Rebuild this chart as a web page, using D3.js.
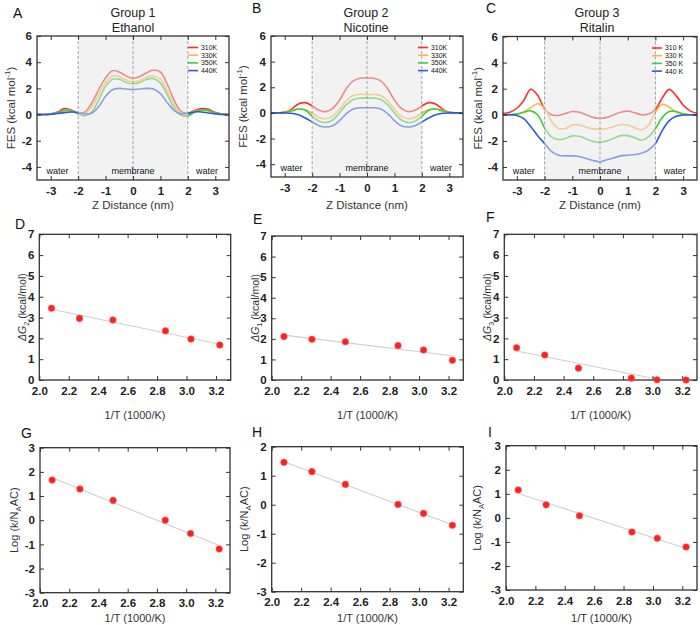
<!DOCTYPE html>
<html><head><meta charset="utf-8">
<script src="https://cdn.jsdelivr.net/npm/d3@7"></script>
<style>
html,body{margin:0;padding:0;background:#fff;}
svg{display:block;font-family:Helvetica, Arial, "Liberation Sans", sans-serif;}
</style></head><body>
<svg id="chart" width="700" height="625"></svg>
<script>
// ---------- DATA ----------
const zDistance = [-3.5,-3.25,-3,-2.75,-2.5,-2.25,-2,-1.75,-1.5,-1.25,-1,-0.75,-0.5,-0.25,0,0.25,0.5,0.75,1,1.25,1.5,1.75,2,2.25,2.5,2.75,3,3.25,3.5];
const tempLabels = ["310K","330K","350K","440K"];
const tempLabelsC = ["310 K","330 K","350 K","440 K"];

const ethanol310 = [0,0,0.05,0.2,0.45,0.35,0.12,0.2,0.9,1.9,2.8,3.35,3.25,2.95,2.75,2.9,3.2,3.4,3.25,2.3,1.1,0.25,0.1,0.3,0.45,0.4,0.15,0.03,0];
const ethanol330 = [0,0,0.03,0.15,0.35,0.3,0.1,0.1,0.6,1.5,2.45,2.95,2.9,2.65,2.5,2.6,2.85,2.95,2.7,1.8,0.8,0.1,0.05,0.25,0.35,0.3,0.1,0.02,0];
const ethanol350 = [0,0,0.03,0.15,0.3,0.3,0.05,-0.1,0.2,1.1,2.15,2.7,2.7,2.45,2.35,2.45,2.7,2.75,2.4,1.5,0.5,-0.05,-0.1,0.2,0.35,0.3,0.1,0.02,0];
const ethanol440 = [0,0,0.02,0.08,0.15,0.2,0.15,0.05,0.1,0.6,1.4,1.9,2.0,1.95,1.9,1.95,2.0,1.95,1.6,0.9,0.3,0.05,0.1,0.2,0.2,0.12,0.05,0,0];

const nicotine310 = [0,0,0.05,0.3,0.7,0.8,0.55,0.2,0.1,0.35,1.0,1.9,2.5,2.7,2.72,2.7,2.5,1.9,1.0,0.35,0.1,0.2,0.55,0.8,0.7,0.3,0.05,0,0];
const nicotine330 = [0,0,0.05,0.2,0.3,0.25,0.0,-0.35,-0.45,-0.25,0.3,0.95,1.35,1.45,1.42,1.45,1.35,0.95,0.3,-0.25,-0.45,-0.35,0.0,0.25,0.3,0.2,0.05,0,0];
const nicotine350 = [0,0,0.05,0.15,0.3,0.2,-0.25,-0.65,-0.75,-0.55,0.0,0.65,1.05,1.15,1.15,1.15,1.05,0.65,0.0,-0.55,-0.75,-0.65,-0.25,0.2,0.3,0.15,0.05,0,0];
const nicotine440 = [0,0,0,-0.03,-0.15,-0.4,-0.7,-1.0,-1.1,-1.0,-0.6,-0.05,0.3,0.4,0.4,0.4,0.3,-0.05,-0.6,-1.0,-1.1,-1.0,-0.7,-0.4,-0.15,-0.03,0,0,0];

const ritalin310 = [0.1,0.2,0.5,1.1,1.95,1.5,0.45,0.0,-0.05,0.1,0.25,0.2,0.0,-0.2,-0.28,-0.2,0.0,0.2,0.28,0.15,0.0,0.05,0.4,1.3,1.95,1.45,0.75,0.3,0.12];
const ritalin330 = [0,0,0.05,0.2,0.55,0.85,0.5,-0.5,-1.05,-1.05,-0.78,-0.78,-0.95,-1.08,-1.1,-1.05,-0.9,-0.75,-0.78,-1.0,-1.15,-0.8,0.2,0.8,0.6,0.2,0.05,0,0];
const ritalin350 = [0,0,0.05,0.2,0.3,0.0,-1.0,-1.7,-1.9,-1.8,-1.62,-1.65,-1.85,-2.05,-2.1,-2.0,-1.8,-1.6,-1.6,-1.75,-1.95,-1.7,-1.05,-0.2,0.25,0.25,0.05,0,0];
const ritalin440 = [0,0,-0.05,-0.3,-0.9,-1.6,-2.2,-2.8,-3.1,-3.15,-3.15,-3.2,-3.35,-3.5,-3.6,-3.45,-3.3,-3.15,-3.1,-3.05,-2.95,-2.7,-2.2,-1.2,-0.45,-0.12,-0.02,0,0];

const fesXTicks = [-3,-2,-1,0,1,2,3];
const fesYTicks = [-4,-2,0,2,4,6];

const invT = [2.083, 2.273, 2.5, 2.857, 3.030, 3.226];
const dG2 = [3.45, 2.96, 2.88, 2.36, 1.97, 1.68];
const dG1 = [2.11, 1.98, 1.86, 1.67, 1.46, 0.96];
const dG3 = [1.55, 1.2, 0.57, 0.09, 0.01, 0.0];
const logK1 = [1.66, 1.29, 0.82, 0.0, -0.55, -1.19];
const logK2 = [1.46, 1.14, 0.70, 0.01, -0.30, -0.71];
const logK3 = [1.16, 0.54, 0.09, -0.59, -0.85, -1.21];
const invTTicks = [2.0, 2.2, 2.4, 2.6, 2.8, 3.0, 3.2];
const dGTicks = [0,1,2,3,4,5,6,7];
const logTicks3 = [-3,-2,-1,0,1,2,3];
const logTicks2 = [-3,-2,-1,0,1,2];

// ---------- DRAW ----------
const svg = d3.select("#chart");
const colors = ["#ff2b2b", "#ffb43c", "#3ccf3c", "#2f58e0"];
let clipCount = 0;

function addText(x, y, txt, opts = {}) {
  return svg.append("text").attr("x", x).attr("y", y)
    .attr("text-anchor", opts.anchor || "middle")
    .attr("font-size", opts.size || 12)
    .attr("font-weight", opts.weight || "normal")
    .attr("fill", opts.fill || "#222")
    .text(txt);
}

function drawAxes(box, x, y, xTicks, yTicks, xFmt, yFmt) {
  const tickStyle = sel => {
    sel.select(".domain").remove();
    sel.selectAll(".tick line").attr("stroke", "#333").attr("stroke-width", 1);
    sel.selectAll(".tick text").attr("font-size", 11.5).attr("font-weight", "bold")
      .attr("fill", "#222").attr("font-family", "Helvetica, Arial, 'Liberation Sans', sans-serif");
  };
  svg.append("g").attr("transform", `translate(0,${box.bottom})`)
    .call(d3.axisBottom(x).tickValues(xTicks).tickSize(-4).tickPadding(6.5).tickFormat(xFmt)).call(tickStyle);
  svg.append("g").attr("transform", `translate(0,${box.top})`)
    .call(d3.axisTop(x).tickValues(xTicks).tickSize(-4).tickFormat("")).call(tickStyle);
  svg.append("g").attr("transform", `translate(${box.left},0)`)
    .call(d3.axisLeft(y).tickValues(yTicks).tickSize(-4).tickPadding(5).tickFormat(yFmt)).call(tickStyle);
  svg.append("g").attr("transform", `translate(${box.right},0)`)
    .call(d3.axisRight(y).tickValues(yTicks).tickSize(-4).tickFormat("")).call(tickStyle);
  svg.append("rect").attr("x", box.left).attr("y", box.top)
    .attr("width", box.right - box.left).attr("height", box.bottom - box.top)
    .attr("fill", "none").attr("stroke", "#333").attr("stroke-width", 1.3);
}

function clipFor(box) {
  const id = "clip" + (clipCount++);
  svg.append("clipPath").attr("id", id).append("rect")
    .attr("x", box.left).attr("y", box.top)
    .attr("width", box.right - box.left).attr("height", box.bottom - box.top);
  return `url(#${id})`;
}

function yLabel(cx, cy, parts, size) {
  const t = svg.append("text")
    .attr("transform", `translate(${cx},${cy}) rotate(-90)`)
    .attr("text-anchor", "middle").attr("font-size", size).attr("fill", "#333");
  let shift = 0;
  parts.forEach(p => {
    const ts = t.append("tspan").text(p.t);
    let target = 0;
    if (p.sub) { target = size * 0.3; ts.attr("font-size", size * 0.7); }
    if (p.sup) { target = -size * 0.4; ts.attr("font-size", size * 0.7); }
    if (target - shift !== 0) ts.attr("dy", target - shift);
    shift = target;
    if (p.it) ts.attr("font-style", "italic");
  });
}

function fesPanel(cfg) {
  const box = cfg.box;
  const x = d3.scaleLinear().domain([-3.5, 3.5]).range([box.left, box.right]);
  const y = d3.scaleLinear().domain([-5, 6]).range([box.bottom, box.top]);
  const g = svg.append("g").attr("clip-path", clipFor(box));
  const line = d3.line().x((d, i) => x(zDistance[i])).y(d => y(d)).curve(d3.curveCatmullRom.alpha(0.5));
  cfg.series.forEach((s, i) => {
    g.append("path").datum(s).attr("d", line).attr("fill", "none")
      .attr("stroke", colors[i]).attr("stroke-width", 1.6);
  });
  g.append("rect").attr("x", x(-2)).attr("y", box.top).attr("width", x(2) - x(-2))
    .attr("height", box.bottom - box.top).attr("fill", "#e6e6e6").attr("opacity", 0.5);
  [-2, 0, 2].forEach(v => {
    g.append("line").attr("x1", x(v)).attr("x2", x(v)).attr("y1", box.top).attr("y2", box.bottom)
      .attr("stroke", "#999").attr("stroke-width", 0.9).attr("stroke-dasharray", "3,2");
  });
  drawAxes(box, x, y, fesXTicks, fesYTicks, d => String(d), d => String(d));
  // region labels
  const ly = box.bottom - 6;
  addText(x(-2.75), ly, "water", {size: 9, fill: "#111"});
  addText(x(0), ly, "membrane", {size: 9, fill: "#111"});
  addText(x(2.7), ly, "water", {size: 9, fill: "#111"});
  // legend
  cfg.legend.forEach((lab, i) => {
    const yy = cfg.legY + i * 7.7;
    svg.append("line").attr("x1", cfg.legX).attr("x2", cfg.legX + 10).attr("y1", yy).attr("y2", yy)
      .attr("stroke", colors[i]).attr("stroke-width", 1.6);
    addText(cfg.legX + 13, yy + 2.4, lab, {size: 6.9, anchor: "start", fill: "#111"});
  });
  // titles
  addText(cfg.titleX, 17, cfg.title1, {size: 12.5, fill: "#222"});
  addText(cfg.titleX, 32, cfg.title2, {size: 12.5, fill: "#222"});
  addText(cfg.letterX, cfg.letterY, cfg.letter, {size: 14, anchor: "start", fill: "#111"});
  addText((box.left + box.right) / 2, 209, "Z Distance (nm)", {size: 11.5, fill: "#333"});
  yLabel(cfg.ylabX, (box.top + box.bottom) / 2, [{t: "FES (kcal mol"}, {t: "-1", sup: true}, {t: ")"}], 11.5);
}

function scatterPanel(cfg) {
  const box = cfg.box;
  const x = d3.scaleLinear().domain([2.0, 3.3]).range([box.left, box.right]);
  const y = d3.scaleLinear().domain(cfg.yDomain).range([box.bottom, box.top]);
  // regression fit line
  const mx = d3.mean(invT), my = d3.mean(cfg.values);
  const slope = d3.sum(invT, (v, i) => (v - mx) * (cfg.values[i] - my)) / d3.sum(invT, v => (v - mx) * (v - mx));
  const icpt = my - slope * mx;
  const x0 = d3.min(invT), x1 = d3.max(invT);
  const g = svg.append("g").attr("clip-path", clipFor(box));
  g.append("line").attr("x1", x(x0)).attr("x2", x(x1))
    .attr("y1", y(icpt + slope * x0)).attr("y2", y(icpt + slope * x1))
    .attr("stroke", "#cfcfcf").attr("stroke-width", 1.1);
  drawAxes(box, x, y, invTTicks, cfg.yTicks, d3.format(".1f"), d => String(d));
  svg.append("g").selectAll("circle").data(cfg.values).join("circle")
    .attr("cx", (d, i) => x(invT[i])).attr("cy", d => y(d)).attr("r", 3.3)
    .attr("fill", "#ff2020").attr("stroke", "#ff6060").attr("stroke-width", 0.6);
  addText((box.left + box.right) / 2, cfg.xlabY, "1/T (1000/K)", {size: 11, fill: "#333"});
  addText(cfg.letterX, cfg.letterY, cfg.letter, {size: 14, anchor: "start", fill: "#111"});
  yLabel(cfg.ylabX, (box.top + box.bottom) / 2, cfg.ylab, cfg.ylabSize);
}

// Top row
fesPanel({box: {left: 37, right: 229, top: 36, bottom: 180}, series: [ethanol310, ethanol330, ethanol350, ethanol440],
  legend: tempLabels, legX: 188, legY: 47.5, title1: "Group 1", title2: "Ethanol", titleX: 133,
  letter: "A", letterX: 13, letterY: 18, ylabX: 15});
fesPanel({box: {left: 271, right: 463, top: 36, bottom: 177}, series: [nicotine310, nicotine330, nicotine350, nicotine440],
  legend: tempLabels, legX: 418, legY: 47.5, title1: "Group 2", title2: "Nicotine", titleX: 366,
  letter: "B", letterX: 252, letterY: 13, ylabX: 247});
fesPanel({box: {left: 503, right: 697, top: 36.5, bottom: 180}, series: [ritalin310, ritalin330, ritalin350, ritalin440],
  legend: tempLabelsC, legX: 652, legY: 48, title1: "Group 3", title2: "Ritalin", titleX: 597,
  letter: "C", letterX: 486, letterY: 13, ylabX: 482});

// Middle row
const dGlab = n => [{t: "ΔG", it: true}, {t: n, sub: true}, {t: " (kcal/mol)"}];
scatterPanel({box: {left: 39.3, right: 230.7, top: 234.3, bottom: 380}, values: dG2, yDomain: [0, 7], yTicks: dGTicks,
  letter: "D", letterX: 15, letterY: 229, ylab: dGlab("2"), ylabX: 26, ylabSize: 10.5, xlabY: 419});
scatterPanel({box: {left: 271.7, right: 463.3, top: 236, bottom: 380}, values: dG1, yDomain: [0, 7], yTicks: dGTicks,
  letter: "E", letterX: 253, letterY: 224, ylab: dGlab("1"), ylabX: 258.5, ylabSize: 10.5, xlabY: 419});
scatterPanel({box: {left: 504.3, right: 697, top: 234.3, bottom: 380}, values: dG3, yDomain: [0, 7], yTicks: dGTicks,
  letter: "F", letterX: 486, letterY: 222, ylab: dGlab("3"), ylabX: 490.5, ylabSize: 10.5, xlabY: 419});

// Bottom row
const logLab = [{t: "Log (k/N"}, {t: "A", sub: true}, {t: "AC)"}];
scatterPanel({box: {left: 40, right: 230, top: 447.7, bottom: 592.7}, values: logK1, yDomain: [-3, 3], yTicks: logTicks3,
  letter: "G", letterX: 21, letterY: 438, ylab: logLab, ylabX: 18, ylabSize: 11, xlabY: 622});
scatterPanel({box: {left: 271.7, right: 463.3, top: 446.7, bottom: 591.7}, values: logK2, yDomain: [-3, 2], yTicks: logTicks2,
  letter: "H", letterX: 252, letterY: 437, ylab: logLab, ylabX: 248, ylabSize: 11, xlabY: 622});
scatterPanel({box: {left: 506, right: 697, top: 445.7, bottom: 590}, values: logK3, yDomain: [-3, 3], yTicks: logTicks3,
  letter: "I", letterX: 488, letterY: 437, ylab: logLab, ylabX: 481, ylabSize: 11, xlabY: 622});
</script>
</body></html>
